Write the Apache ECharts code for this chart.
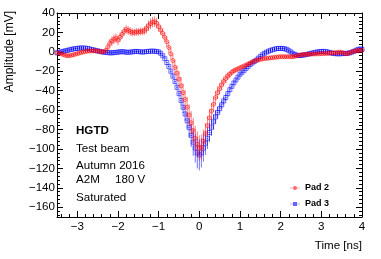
<!DOCTYPE html>
<html>
<head>
<meta charset="utf-8">
<script src="https://cdn.jsdelivr.net/npm/echarts@6/dist/echarts.min.js"></script>
<style>html,body{margin:0;padding:0;background:#fff;}#chart{width:381px;height:259px;}</style>
</head>
<body>
<div id="chart"></div>
<script>
// Sampling of the waveforms (ns)
const T_START = -3.5;
const T_STEP = 0.05;

// Pad 2 amplitude [mV]
const pad2Values = [
  -1, -1.5, -2, -2.8, -3.5, -4, -4, -3.6, -3, -2.5,
  -1.8, -1.2, -0.6, -0.1, 0.3, 0.7, 0.9, 1, 1, 1,
  0.8, 0.5, 0.2, 0, 1.5, 5, 9, 11, 13, 14,
  12, 15, 18, 21, 23, 22, 21, 20, 20, 20.5,
  20.5, 21, 21, 22, 24, 27, 29, 30.5, 31, 29.5,
  26, 22.5, 19, 15, 10.5, 4.5, -2, -9, -16, -22,
  -28, -35, -42, -49, -57, -65, -73, -81, -89, -95,
  -99, -98, -92, -84, -76, -68, -61, -54, -47, -42,
  -38, -34, -30.5, -27.5, -25, -23, -21, -19.5, -18.5, -17.5,
  -16.5, -15.5, -14.5, -13.5, -12.5, -11.5, -10.5, -9.5, -8.8, -8.2,
  -7.7, -7.3, -7, -6.7, -6.4, -6.2, -6, -5.7, -5.4, -5.2,
  -5, -5, -5, -5, -5, -5, -5, -4.5, -4, -3.5,
  -3, -2.8, -2.6, -2.5, -2.4, -2.3, -2.2, -2.1, -2, -2,
  -1.9, -1.8, -1.7, -1.6, -1.4, -1.2, -1, -0.8, -0.6, -0.4,
  -0.5, -1.2, -2, -1.8, -1, 0, 0.5, 1, 1.5, 1.6,
  1.5
];
const pad2Errors = [
  1.5, 1.5, 1.5, 1.5, 1.5, 1.5, 1.5, 1.5, 1.5, 1.5,
  1.5, 1.5, 1.5, 1.5, 1.5, 1.5, 1.5, 1.5, 1.5, 1.5,
  1.5, 1.5, 1.5, 2, 3, 4, 4.5, 5, 5, 5,
  5, 5, 4.5, 4.5, 4.5, 4.5, 4.5, 4, 4, 4,
  4, 4, 4, 4.5, 5, 5.5, 5.5, 5.5, 5.5, 5.5,
  5, 5, 5, 5, 5.5, 6, 6.5, 7, 7.5, 8,
  8.5, 9, 9.5, 10, 10.5, 11, 12, 13, 13, 13,
  13, 13, 12, 11, 10, 9, 8.5, 8, 7, 6.5,
  6, 5.5, 5, 4.5, 4, 3.5, 3.2, 3, 2.8, 2.5,
  2.5, 2.2, 2, 2, 2, 1.8, 1.8, 1.5, 1.5, 1.5,
  1.5, 1.5, 1.5, 1.5, 1.5, 1.5, 1.5, 1.5, 1.5, 1.5,
  1.5, 1.5, 1.5, 1.5, 1.5, 1.5, 1.5, 1.5, 1.5, 1.5,
  1.5, 1.5, 1.5, 1.5, 1.5, 1.5, 1.5, 1.5, 1.5, 1.5,
  1.5, 1.5, 1.5, 1.5, 1.5, 1.5, 1.5, 1.5, 1.5, 1.5,
  1.5, 1.5, 1.5, 1.5, 1.5, 1.5, 1.5, 1.5, 1.5, 1.5,
  1.5
];

// Pad 3 amplitude [mV]
const pad3Values = [
  -1, -0.5, 0, 0.5, 1, 1.5, 2, 2.5, 3, 3.3,
  3.6, 3.9, 4, 4, 3.8, 3.5, 3, 2.5, 2, 1.5,
  1, 0.5, 0, -0.3, -0.5, -0.8, -1, -1, -0.8, -0.5,
  -0.3, 0, 0.2, 0, -0.3, -0.5, -0.3, 0, 0.3, 0.5,
  0.3, 0, -0.2, 0, 0.3, 0.5, 0.7, 0.8, 0.6, 0.4,
  0, -1.5, -4, -7, -11, -15, -20, -25, -30.5, -36.5,
  -43, -50, -57, -64, -71, -78, -86, -93, -99, -104,
  -106, -104, -99, -94, -89, -83, -77.5, -72, -67, -62.5,
  -58.5, -54.5, -50.5, -47, -43, -39, -35.5, -32, -29, -26,
  -23, -21, -19, -17, -15, -13, -11.5, -10, -8.5, -6.5,
  -4.8, -3, -1.5, -0.3, 0.7, 1.5, 2.2, 2.8, 3.3, 3.5,
  3.6, 3.5, 3.2, 2.5, 1.2, 0, -1.5, -2.7, -3.5, -3.8,
  -3.7, -3.4, -3, -2.6, -2, -1.5, -1, -0.5, -0.1, 0.2,
  0.4, 0.5, 0.3, 0, -0.6, -1.2, -1.6, -1.9, -2, -2,
  -1.9, -1.7, -1.6, -1.4, -1, -0.3, 0.5, 1.5, 2.5, 3,
  2.5
];
const pad3Errors = [
  1, 1, 1, 1, 1, 1, 1, 1, 1, 1,
  1, 1, 1, 1, 1, 1, 1, 1, 1, 1,
  1, 1, 1, 1, 1, 1, 1, 1, 1, 1,
  1, 1, 1, 1, 1, 1, 1, 1, 1, 1,
  1, 1, 1, 1, 1, 1, 1, 1, 1, 1,
  1, 1, 1, 1, 1.2, 1.5, 2, 2.5, 3, 3.5,
  4, 5, 6, 7, 8, 10, 12, 14, 15, 16,
  16, 15, 14, 12, 11, 10, 9, 8, 7, 6,
  5, 4.5, 4, 3.5, 3, 2.5, 2, 2, 1.5, 1.5,
  1.5, 1.5, 1.2, 1.2, 1, 1, 1, 1, 1, 1,
  1, 1, 1, 1, 1, 1, 1, 1, 1, 1,
  1, 1, 1, 1, 1, 1, 1, 1, 1, 1,
  1, 1, 1, 1, 1, 1, 1, 1, 1, 1,
  1, 1, 1, 1, 1, 1, 1, 1, 1, 1,
  1, 1, 1, 1, 1, 1, 1, 1, 1, 1,
  1
];

// Axis ticks / labels
const xTickValues = [-3, -2, -1, 0, 1, 2, 3, 4];
const yTickValues = [-160, -140, -120, -100, -80, -60, -40, -20, 0, 20, 40];
const X_MIN = -3.5, X_MAX = 4, Y_MIN = -170, Y_MAX = 40;

const xMinor = [];
for (let v = -34; v <= 40; v += 2) xMinor.push(v / 10);
const yMinor = [];
for (let v = -168; v <= 40; v += 4) yMinor.push(v);

const FONT = '"Liberation Sans", Arial, Helvetica, sans-serif';
const RED = 'rgba(255,0,0,0.7)';
const RED_ERR = 'rgba(255,0,0,0.5)';
const BLUE = 'rgba(0,0,255,0.7)';
const BLUE_ERR = 'rgba(0,0,255,0.55)';

function times(n) { const t = []; for (let i = 0; i < n; i++) t.push(+(T_START + i * T_STEP).toFixed(2)); return t; }
const tPad2 = times(pad2Values.length);
const tPad3 = times(pad3Values.length);
const pad2Data = pad2Values.map((v, i) => [tPad2[i], v, pad2Errors[i]]);
const pad3Data = pad3Values.map((v, i) => [tPad3[i], v, pad3Errors[i]]);

const minus = v => (v < 0 ? '\u2212' + (-v) : String(v));

function errRender(color) {
  return function (params, api) {
    const t = api.value(0), v = api.value(1), e = api.value(2);
    const c = api.coord([t, v]);
    const lo = api.coord([t, v - e]);
    const hi = api.coord([t, v + e]);
    const l = api.coord([t - T_STEP / 2, v]);
    const r = api.coord([t + T_STEP / 2, v]);
    return {
      type: 'group',
      children: [
        { type: 'line', shape: { x1: c[0], y1: lo[1], x2: c[0], y2: hi[1] }, style: { stroke: color, lineWidth: 1 } },
        { type: 'line', shape: { x1: l[0], y1: c[1], x2: r[0], y2: c[1] }, style: { stroke: color, lineWidth: 1 } }
      ]
    };
  };
}

function xAx(pos, major, withLabels) {
  return {
    type: 'value', min: X_MIN, max: X_MAX, position: pos,
    axisLine: { show: major, onZero: false, lineStyle: { color: '#000', width: 1 } },
    axisTick: { show: true, inside: true, length: major ? 6 : 3, customValues: major ? xTickValues : xMinor, lineStyle: { color: '#000', width: 1 } },
    axisLabel: { show: withLabels, customValues: xTickValues, formatter: minus, margin: 4, color: '#000', fontSize: 11.6, fontFamily: FONT },
    splitLine: { show: false }
  };
}
function yAx(pos, major, withLabels) {
  return {
    type: 'value', min: Y_MIN, max: Y_MAX, position: pos,
    axisLine: { show: major, onZero: false, lineStyle: { color: '#000', width: 1 } },
    axisTick: { show: true, inside: true, length: major ? 6 : 3, customValues: major ? yTickValues : yMinor, lineStyle: { color: '#000', width: 1 } },
    axisLabel: { show: withLabels, customValues: yTickValues, formatter: minus, margin: 2, color: '#000', fontSize: 11.6, fontFamily: FONT },
    splitLine: { show: false }
  };
}

const xAxes = [xAx('bottom', true, true), xAx('bottom', false, false), xAx('top', true, false), xAx('top', false, false)];
xAxes[0].name = 'Time [ns]';
xAxes[0].nameLocation = 'end';
xAxes[0].nameGap = 0;
xAxes[0].nameTextStyle = { align: 'right', verticalAlign: 'top', padding: [23, 0, 0, 0], color: '#000', fontSize: 11.6, fontFamily: FONT };
const yAxes = [yAx('left', true, true), yAx('left', false, false), yAx('right', true, false), yAx('right', false, false)];

const chart = echarts.init(document.getElementById('chart'), null, { renderer: 'canvas' });
chart.setOption({
  animation: false,
  backgroundColor: '#fff',
  grid: { left: 57, right: 19, top: 13, bottom: 42, containLabel: false },
  xAxis: xAxes,
  yAxis: yAxes,
  legend: {
    left: 285, top: 178, orient: 'vertical', itemWidth: 10, itemHeight: 6, itemGap: 6,
    textStyle: { fontSize: 9, fontWeight: 'bold', fontFamily: FONT, color: '#000', lineHeight: 10 },
    data: [
      { name: 'Pad 2', icon: 'path://M0,2.6H12V3.4H0Z M6,0.6A2.4,2.4,0,1,1,5.99,0.6Z', itemStyle: { color: 'rgba(255,0,0,0.6)', borderWidth: 0 } },
      { name: 'Pad 3', icon: 'path://M0,2.6H12V3.4H0Z M3.6,0.6H8.4V5.4H3.6Z', itemStyle: { color: 'rgba(0,0,255,0.6)', borderWidth: 0 } }
    ]
  },
  graphic: [
    { type: 'text', x: 10, y: 11, rotation: Math.PI / 2, style: { text: 'Amplitude [mV]', align: 'right', verticalAlign: 'middle', fill: '#000', fontSize: 12, fontFamily: FONT } },
    { type: 'text', x: 76, y: 131, style: { text: 'HGTD', align: 'left', verticalAlign: 'middle', fill: '#000', fontSize: 11.6, fontWeight: 'bold', fontFamily: FONT } },
    { type: 'text', x: 76, y: 148.5, style: { text: 'Test beam', align: 'left', verticalAlign: 'middle', fill: '#000', fontSize: 11.6, fontFamily: FONT } },
    { type: 'text', x: 76, y: 166, style: { text: 'Autumn 2016', align: 'left', verticalAlign: 'middle', fill: '#000', fontSize: 11.6, fontFamily: FONT } },
    { type: 'text', x: 76, y: 179.5, style: { text: 'A2M', align: 'left', verticalAlign: 'middle', fill: '#000', fontSize: 11.6, fontFamily: FONT } },
    { type: 'text', x: 115, y: 179.5, style: { text: '180 V', align: 'left', verticalAlign: 'middle', fill: '#000', fontSize: 11.6, fontFamily: FONT } },
    { type: 'text', x: 76, y: 197.5, style: { text: 'Saturated', align: 'left', verticalAlign: 'middle', fill: '#000', fontSize: 11.6, fontFamily: FONT } }
  ],
  series: [
    { name: 'Pad 3', type: 'custom', xAxisIndex: 0, yAxisIndex: 0, data: pad3Data, encode: { x: 0, y: 1 }, renderItem: errRender(BLUE_ERR), clip: true, z: 2 },
    { name: 'Pad 3', type: 'scatter', xAxisIndex: 0, yAxisIndex: 0, data: pad3Data, encode: { x: 0, y: 1 }, symbol: 'rect', symbolSize: 4,
      itemStyle: { color: 'rgba(0,0,0,0)', borderColor: BLUE, borderWidth: 1 }, z: 3 },
    { name: 'Pad 2', type: 'custom', xAxisIndex: 0, yAxisIndex: 0, data: pad2Data, encode: { x: 0, y: 1 }, renderItem: errRender(RED_ERR), clip: true, z: 4 },
    { name: 'Pad 2', type: 'scatter', xAxisIndex: 0, yAxisIndex: 0, data: pad2Data, encode: { x: 0, y: 1 }, symbol: 'circle', symbolSize: 4,
      itemStyle: { color: 'rgba(0,0,0,0)', borderColor: RED, borderWidth: 1 }, z: 5 }
  ]
});
</script>
</body>
</html>
